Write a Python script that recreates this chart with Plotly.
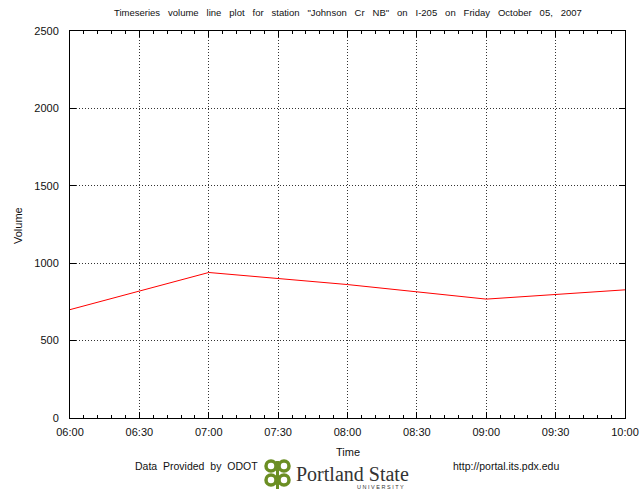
import plotly.graph_objects as go

# Hourly volume counts, I-205 Johnson Cr NB, Friday 2007-10-05
times = ["2007-10-05 06:00", "2007-10-05 07:00", "2007-10-05 08:00",
         "2007-10-05 09:00", "2007-10-05 10:00"]
volume = [700, 940, 862, 768, 828]

y_ticks = [0, 500, 1000, 1500, 2000, 2500]

FONT = "Liberation Sans, Arial, sans-serif"
GRID_DASH = "1px,2px"
WIDE = "&nbsp;" * 3

title_words = ["Timeseries", "volume", "line", "plot", "for", "station", '"Johnson', "Cr",
               'NB"', "on", "I-205", "on", "Friday", "October", "05,", "2007"]

# plot area in figure pixels
L, R, T, B = 70, 625, 31, 418
W, H = 643, 490


def px_x(x):
    return (x - L) / (R - L)


def px_y(y):
    return (B - y) / (B - T)


fig = go.Figure()
fig.add_trace(go.Scatter(
    x=times, y=volume, mode="lines",
    line=dict(color="#ff0000", width=1),
    hoverinfo="skip", showlegend=False,
))

fig.update_layout(
    width=W, height=H,
    margin=dict(l=L, r=W - R, t=T, b=H - B),
    paper_bgcolor="white", plot_bgcolor="white",
    font=dict(family=FONT, size=11, color="#111"),
)

fig.add_annotation(text=WIDE.join(title_words), xref="paper", yref="paper",
                   x=px_x(348), y=px_y(12), xanchor="center", yanchor="middle",
                   showarrow=False, font=dict(size=9.5, family=FONT, color="#111"))

fig.update_xaxes(
    type="date",
    range=["2007-10-05 06:00", "2007-10-05 10:00"],
    dtick=30 * 60 * 1000, tick0="2007-10-05 06:00",
    tickformat="%H:%M",
    ticks="inside", ticklen=6, tickcolor="black",
    minor=dict(dtick=6 * 60 * 1000, ticks="inside", ticklen=3, tickcolor="black", showgrid=False),
    showline=True, linecolor="black", linewidth=1, mirror="allticks",
    showgrid=True, gridcolor="#333", gridwidth=1, griddash=GRID_DASH,
    zeroline=False, automargin=False,
    ticklabelstandoff=4,
    tickfont=dict(size=11),
)
fig.update_yaxes(
    range=[0, 2500], tickvals=y_ticks,
    ticks="inside", ticklen=6, tickcolor="black",
    showline=True, linecolor="black", linewidth=1, mirror="allticks",
    showgrid=True, gridcolor="#333", gridwidth=1, griddash=GRID_DASH,
    zeroline=False, automargin=False,
    ticklabelstandoff=8,
    tickfont=dict(size=11),
)

# Axis titles
fig.add_annotation(text="Time", xref="paper", yref="paper",
                   x=px_x(348), y=px_y(452), xanchor="center", yanchor="middle",
                   showarrow=False, font=dict(size=11, family=FONT, color="#111"))
fig.add_annotation(text="Volume", xref="paper", yref="paper", textangle=-90,
                   x=px_x(18), y=px_y(226), xanchor="center", yanchor="middle",
                   showarrow=False, font=dict(size=11, family=FONT, color="#111"))

# Footer credits
fig.add_annotation(text="Data&nbsp;&nbsp;Provided&nbsp;&nbsp;by&nbsp;&nbsp;ODOT",
                   xref="paper", yref="paper",
                   x=px_x(196), y=px_y(466), xanchor="center", yanchor="middle",
                   showarrow=False, font=dict(size=10.5, family=FONT, color="#111"))
fig.add_annotation(text="http://portal.its.pdx.edu", xref="paper", yref="paper",
                   x=px_x(506), y=px_y(466), xanchor="center", yanchor="middle",
                   showarrow=False, font=dict(size=10.5, family=FONT, color="#111"))

# Portland State University wordmark
fig.add_annotation(text="Portland State", xref="paper", yref="paper",
                   x=px_x(352), y=px_y(474), xanchor="center", yanchor="middle",
                   showarrow=False,
                   font=dict(size=20, family="Liberation Serif, DejaVu Serif, serif", color="#333"))
fig.add_annotation(text="U&nbsp;N&nbsp;I&nbsp;V&nbsp;E&nbsp;R&nbsp;S&nbsp;I&nbsp;T&nbsp;Y",
                   xref="paper", yref="paper",
                   x=px_x(380), y=px_y(487), xanchor="center", yanchor="middle",
                   showarrow=False, font=dict(size=5.5, family=FONT, color="#333"))

# Green interlaced knot emblem
green = "#6b8e23"
knot_loops = [
    (271, 466, 10),
    (284, 466, 10),
    (271, 480, 10),
    (284, 480, 10),
]
for cx, cy, d in knot_loops:
    fig.add_shape(type="circle", xref="paper", yref="paper",
                  x0=px_x(cx - d / 2), x1=px_x(cx + d / 2),
                  y0=px_y(cy + d / 2), y1=px_y(cy - d / 2),
                  line=dict(color=green, width=3.5), layer="above")
fig.add_shape(type="line", xref="paper", yref="paper",
              x0=px_x(277.5), x1=px_x(277.5), y0=px_y(461), y1=px_y(489),
              line=dict(color=green, width=3), layer="above")

fig.write_html("out.html")
